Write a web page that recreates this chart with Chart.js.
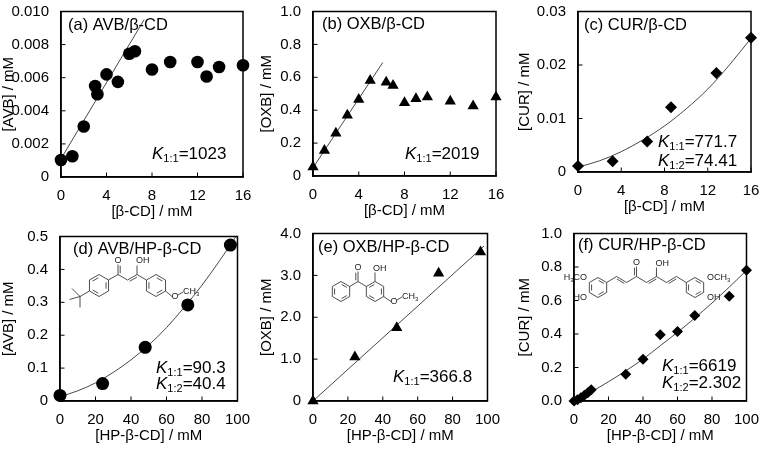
<!DOCTYPE html>
<html>
<head>
<meta charset="utf-8">
<script src="https://cdn.jsdelivr.net/npm/chart.js@4.4.1/dist/chart.umd.min.js"></script>
<style>
html, body { margin: 0; padding: 0; background: #fff; }
body { width: 763px; height: 449px; position: relative; overflow: hidden; }
.panel { position: absolute; }
</style>
</head>
<body>
<div class="panel" id="pa"><canvas id="ca"></canvas></div>
<div class="panel" id="pb"><canvas id="cb"></canvas></div>
<div class="panel" id="pc"><canvas id="cc"></canvas></div>
<div class="panel" id="pd"><canvas id="cd"></canvas></div>
<div class="panel" id="pe"><canvas id="ce"></canvas></div>
<div class="panel" id="pf"><canvas id="cf"></canvas></div>
<script>
const FONT = "'Liberation Sans', Arial, sans-serif";

// shared x ticks
const xTicksBeta = [0, 4, 8, 12, 16];
const xLabelsBeta = ['0', '4', '8', '12', '16'];
const xTicksHP = [0, 20, 40, 60, 80, 100];
const xLabelsHP = ['0', '20', '40', '60', '80', '100'];

// (a) AVB / beta-CD
const aX = [0, 1, 2, 3, 3.2, 4, 5, 6, 6.5, 8, 9.6, 12, 12.8, 13.9, 16];
const aY = [0.00103, 0.00125, 0.00305, 0.0055, 0.0050, 0.0062, 0.00575, 0.00745, 0.0076, 0.0065, 0.00695, 0.00695, 0.00607, 0.00665, 0.00675];
const aFitX = [0, 7.3];
const aFitY = [0.0011, 0.0095];
const aYTicks = [0, 0.002, 0.004, 0.006, 0.008, 0.010];
const aYLabels = ['0', '0.002', '0.004', '0.006', '0.008', '0.010'];

// (b) OXB / beta-CD
const bX = [0, 1, 2, 3, 4, 5, 6.4, 7, 8, 9, 10, 12, 14, 16];
const bY = [0.055, 0.155, 0.26, 0.37, 0.465, 0.58, 0.57, 0.55, 0.445, 0.47, 0.48, 0.455, 0.425, 0.48];
const bFitX = [0, 6.1];
const bFitY = [0.05, 0.69];
const bYTicks = [0, 0.2, 0.4, 0.6, 0.8, 1.0];
const bYLabels = ['0', '0.2', '0.4', '0.6', '0.8', '1.0'];

// (c) CUR / beta-CD
const cX = [0, 3.2, 6.4, 8.6, 12.8, 16];
const cY = [0.0011, 0.0020, 0.0057, 0.0121, 0.0185, 0.0251];
const cFitX = [0, 2, 4, 6, 8, 10, 12, 14, 16];
const cFitY = [0.0009, 0.0021, 0.0038, 0.0060, 0.0086, 0.0118, 0.0155, 0.0200, 0.0250];
const cYTicks = [0, 0.01, 0.02, 0.03];
const cYLabels = ['0', '0.01', '0.02', '0.03'];

// (d) AVB / HP-beta-CD
const dX = [0, 24, 48, 72, 96];
const dY = [0.017, 0.053, 0.163, 0.292, 0.474];
const dFitX = [0, 10, 20, 30, 40, 50, 60, 70, 80, 90, 100];
const dFitY = [0.013, 0.031, 0.055, 0.087, 0.125, 0.170, 0.223, 0.285, 0.352, 0.427, 0.507];
const dYTicks = [0, 0.1, 0.2, 0.3, 0.4, 0.5];
const dYLabels = ['0', '0.1', '0.2', '0.3', '0.4', '0.5'];

// (e) OXB / HP-beta-CD
const eX = [0, 24, 48, 72, 96];
const eY = [0, 1.05, 1.75, 3.05, 3.56];
const eFitX = [0, 98];
const eFitY = [0, 3.7];
const eYTicks = [0, 1, 2, 3, 4];
const eYLabels = ['0', '1.0', '2.0', '3.0', '4.0'];

// (f) CUR / HP-beta-CD
const fX = [0, 2, 4, 6, 8, 10, 30, 40, 50, 60, 70, 90, 100];
const fY = [0, 0.008, 0.02, 0.035, 0.05, 0.067, 0.16, 0.25, 0.395, 0.415, 0.51, 0.625, 0.78];
const fFitX = [0, 10, 20, 30, 40, 50, 60, 70, 80, 90, 100];
const fFitY = [0, 0.055, 0.115, 0.18, 0.25, 0.33, 0.41, 0.495, 0.585, 0.68, 0.78];
const fYTicks = [0, 0.2, 0.4, 0.6, 0.8, 1.0];
const fYLabels = ['0.0', '0.2', '0.4', '0.6', '0.8', '1.0'];

// --- small drawing helpers ---
function seg(ctx, p, q) {
    ctx.beginPath();
    ctx.moveTo(p[0], p[1]);
    ctx.lineTo(q[0], q[1]);
    ctx.stroke();
}
function dseg(ctx, p, q, off) {
    seg(ctx, p, q);
    const dx = q[0] - p[0], dy = q[1] - p[1], len = Math.hypot(dx, dy);
    const nx = -dy / len * off, ny = dx / len * off;
    seg(ctx, [p[0] + nx + dx * 0.12, p[1] + ny + dy * 0.12], [q[0] + nx - dx * 0.12, q[1] + ny - dy * 0.12]);
}
function ring(ctx, cx, cy, r, dbl) {
    const v = [];
    for (let i = 0; i < 6; i++) {
        const ang = (-90 + 60 * i) * Math.PI / 180;
        v.push([cx + r * Math.cos(ang), cy + r * Math.sin(ang)]);
    }
    for (let i = 0; i < 6; i++) seg(ctx, v[i], v[(i + 1) % 6]);
    dbl.forEach(i => {
        const p = v[i], q = v[(i + 1) % 6];
        const p2 = [cx + (p[0] - cx) * 0.74, cy + (p[1] - cy) * 0.74];
        const q2 = [cx + (q[0] - cx) * 0.74, cy + (q[1] - cy) * 0.74];
        seg(ctx, [p2[0] + (q2[0] - p2[0]) * 0.1, p2[1] + (q2[1] - p2[1]) * 0.1],
                 [q2[0] - (q2[0] - p2[0]) * 0.1, q2[1] - (q2[1] - p2[1]) * 0.1]);
    });
    return v;
}
// parts: [[text, isSub], ...]
function chemText(ctx, parts, x, y, align) {
    ctx.textBaseline = 'middle';
    ctx.textAlign = 'left';
    let w = 0;
    parts.forEach(p => { ctx.font = (p[1] ? '6px ' : '9px ') + FONT; w += ctx.measureText(p[0]).width; });
    let cx = align === 'right' ? x - w : align === 'center' ? x - w / 2 : x;
    parts.forEach(p => {
        ctx.font = (p[1] ? '6px ' : '9px ') + FONT;
        ctx.fillText(p[0], cx, y + (p[1] ? 2.5 : 0));
        cx += ctx.measureText(p[0]).width;
    });
}

function molAVB(ctx, L, T) {
    const P = (x, y) => [L + x, T + y];
    const r1 = ring(ctx, L + 39, T + 49, 11, [1, 3, 5]);
    const cq = P(20, 60);
    seg(ctx, r1[4], cq);
    seg(ctx, cq, P(20, 71));
    seg(ctx, cq, P(9.5, 63));
    seg(ctx, cq, P(12, 52));
    const c1 = P(58, 38), c2 = P(67.5, 43.5), c3 = P(77, 38);
    seg(ctx, r1[1], c1);
    dseg(ctx, c1, P(58, 28), 2.2);
    chemText(ctx, [['O', 0]], L + 58, T + 24, 'center');
    seg(ctx, c1, c2);
    dseg(ctx, c2, c3, 2.2);
    seg(ctx, c3, P(77, 29));
    chemText(ctx, [['OH', 0]], L + 76, T + 24, 'left');
    const r2 = ring(ctx, L + 96, T + 49, 11, [0, 2, 4]);
    seg(ctx, c3, r2[5]);
    seg(ctx, r2[2], P(112, 60));
    chemText(ctx, [['O', 0]], L + 115, T + 60, 'center');
    seg(ctx, P(118, 58.5), P(123, 55.5));
    chemText(ctx, [['CH', 0], ['3', 1]], L + 123, T + 55, 'left');
}

function molOXB(ctx, L, T) {
    const P = (x, y) => [L + x, T + y];
    ring(ctx, L + 28, T + 58, 10, [0, 2, 4]);
    const c = P(45, 48);
    seg(ctx, [L + 28 + 8.66, T + 53], c);
    dseg(ctx, c, P(45, 38), -2.2);
    chemText(ctx, [['O', 0]], L + 45, T + 34, 'center');
    const r2 = ring(ctx, L + 62, T + 58, 10, [1, 3, 5]);
    seg(ctx, c, r2[5]);
    seg(ctx, r2[0], P(62, 39));
    chemText(ctx, [['OH', 0]], L + 60, T + 35, 'left');
    seg(ctx, r2[2], P(78, 68));
    chemText(ctx, [['O', 0]], L + 81, T + 68, 'center');
    seg(ctx, P(84, 66.5), P(89, 63.5));
    chemText(ctx, [['CH', 0], ['3', 1]], L + 89, T + 63, 'left');
}

function molCUR(ctx, L, T) {
    const r1 = ring(ctx, L + 24, T + 54, 10, [0, 2, 4]);
    const r2 = ring(ctx, L + 121, T + 54, 10, [0, 2, 4]);
    const p = [];
    for (let i = 0; i <= 8; i++) {
        p.push([r1[1][0] + (r2[5][0] - r1[1][0]) * i / 8, T + (i % 2 ? 43 : 49)]);
    }
    for (let i = 0; i < 8; i++) {
        if (i === 1 || i === 4 || i === 6) dseg(ctx, p[i], p[i + 1], 2);
        else seg(ctx, p[i], p[i + 1]);
    }
    dseg(ctx, p[3], [p[3][0], T + 33], -2);
    chemText(ctx, [['O', 0]], p[3][0], T + 29, 'center');
    seg(ctx, p[5], [p[5][0], T + 34]);
    chemText(ctx, [['OH', 0]], p[5][0] - 1, T + 30, 'left');
    chemText(ctx, [['H', 0], ['3', 1], ['CO', 0]], L + 13, T + 44, 'right');
    chemText(ctx, [['HO', 0]], L + 13, T + 64, 'right');
    chemText(ctx, [['OCH', 0], ['3', 1]], L + 133, T + 44, 'left');
    chemText(ctx, [['OH', 0]], L + 133, T + 64, 'left');
}

const molecules = { avb: molAVB, oxb: molOXB, cur: molCUR };

function drawK(ctx, k, a) {
    let x = a.left + k.dx;
    const y = a.bottom + k.dy;
    ctx.textBaseline = 'middle';
    ctx.textAlign = 'left';
    ctx.font = 'italic 17px ' + FONT;
    ctx.fillText('K', x, y);
    x += ctx.measureText('K').width;
    ctx.font = '11px ' + FONT;
    ctx.fillText(k.sub, x, y + 5);
    x += ctx.measureText(k.sub).width;
    ctx.font = '17px ' + FONT;
    ctx.fillText('=' + k.val, x, y);
}

const decoPlugin = {
    id: 'deco',
    afterDraw(chart) {
        const o = chart.options.plugins.deco;
        const ctx = chart.ctx, a = chart.chartArea;
        const xs = chart.scales.x, ys = chart.scales.y;
        ctx.save();
        // plot frame and inside ticks
        ctx.strokeStyle = '#000';
        ctx.lineWidth = 1.5;
        ctx.strokeRect(a.left, a.top, a.right - a.left, a.bottom - a.top);
        ctx.lineWidth = 1;
        xs.ticks.forEach(tk => {
            const px = xs.getPixelForValue(tk.value);
            seg(ctx, [px, a.bottom], [px, a.bottom - 4.5]);
        });
        ys.ticks.forEach(tk => {
            const py = ys.getPixelForValue(tk.value);
            seg(ctx, [a.left, py], [a.left + 4.5, py]);
        });
        ctx.fillStyle = '#000';
        ctx.font = '16.5px ' + FONT;
        ctx.textBaseline = 'middle';
        ctx.textAlign = 'left';
        ctx.fillText(o.title, a.left + o.titlePos[0], a.top + o.titlePos[1]);
        o.k.forEach(k => drawK(ctx, k, a));
        if (o.mol && molecules[o.mol]) {
            ctx.strokeStyle = '#222';
            ctx.lineWidth = 0.8;
            ctx.fillStyle = '#222';
            molecules[o.mol](ctx, a.left, a.top);
        }
        ctx.restore();
    }
};

function pts(xs, ys) {
    return xs.map((x, i) => ({ x: x, y: ys[i] }));
}

function makePanel(p) {
    const div = document.getElementById('p' + p.id);
    div.style.left = p.box[0] + 'px';
    div.style.top = p.box[1] + 'px';
    div.style.width = p.box[2] + 'px';
    div.style.height = p.box[3] + 'px';

    new Chart(document.getElementById('c' + p.id), {
        type: 'scatter',
        data: {
            datasets: [{
                data: pts(p.dataX, p.dataY),
                pointStyle: p.marker,
                pointRadius: p.size,
                backgroundColor: '#000',
                borderColor: '#000',
                borderWidth: 0,
                showLine: false,
                clip: false
            }, {
                data: pts(p.fitX, p.fitY),
                showLine: true,
                pointRadius: 0,
                borderColor: '#333',
                borderWidth: 0.9,
                tension: 0.4,
                cubicInterpolationMode: 'monotone'
            }]
        },
        options: {
            responsive: true,
            maintainAspectRatio: false,
            animation: false,
            layout: { padding: { top: 7, right: p.padR, left: 0, bottom: 0 } },
            plugins: {
                legend: { display: false },
                tooltip: { enabled: false },
                deco: { title: p.title, titlePos: p.titlePos, k: p.k, mol: p.mol }
            },
            scales: {
                x: {
                    type: 'linear',
                    min: 0,
                    max: p.xTicks[p.xTicks.length - 1],
                    grid: { display: false },
                    border: { display: true, color: '#000', width: 1.5 },
                    afterBuildTicks: s => { s.ticks = p.xTicks.map(v => ({ value: v })); },
                    afterFit: s => { s.height = 46; },
                    ticks: {
                        padding: 3,
                        maxRotation: 0,
                        color: '#000',
                        font: { family: FONT, size: 15, lineHeight: 1 },
                        callback: (v, i) => p.xLabels[i]
                    },
                    title: {
                        display: true,
                        text: p.xTitle,
                        color: '#000',
                        font: { family: FONT, size: 15 },
                        padding: { top: 0, bottom: 2 }
                    }
                },
                y: {
                    type: 'linear',
                    min: 0,
                    max: p.yTicks[p.yTicks.length - 1],
                    grid: { display: false },
                    border: { display: true, color: '#000', width: 1.5 },
                    afterBuildTicks: s => { s.ticks = p.yTicks.map(v => ({ value: v })); },
                    afterFit: s => { s.width = p.wy; },
                    ticks: {
                        padding: 4,
                        color: '#000',
                        font: { family: FONT, size: 15, lineHeight: 1 },
                        callback: (v, i) => p.yLabels[i]
                    },
                    title: {
                        display: true,
                        text: p.yTitle,
                        color: '#000',
                        font: { family: FONT, size: 15 },
                        padding: { top: 0, bottom: 0 }
                    }
                }
            }
        },
        plugins: [decoPlugin]
    });
}

// panels do not overlap and stay inside the page
const panelList = [{
    id: 'a', box: [0, 0, 257, 223], wy: 61, padR: 14,
    xTicks: xTicksBeta, xLabels: xLabelsBeta, xTitle: '[β-CD] / mM',
    yTicks: aYTicks, yLabels: aYLabels, yTitle: '[AVB] / mM',
    dataX: aX, dataY: aY, fitX: aFitX, fitY: aFitY, marker: 'circle', size: 6.3,
    title: '(a) AVB/β-CD', titlePos: [7, 14],
    k: [{ sub: '1:1', val: '1023', dx: 91, dy: -23 }], mol: ''
}, {
    id: 'b', box: [258, 0, 252, 222], wy: 55, padR: 14,
    xTicks: xTicksBeta, xLabels: xLabelsBeta, xTitle: '[β-CD] / mM',
    yTicks: bYTicks, yLabels: bYLabels, yTitle: '[OXB] / mM',
    dataX: bX, dataY: bY, fitX: bFitX, fitY: bFitY, marker: 'triangle', size: 6.5,
    title: '(b) OXB/β-CD', titlePos: [9, 13],
    k: [{ sub: '1:1', val: '2019', dx: 92, dy: -22 }], mol: ''
}, {
    id: 'c', box: [516, 0, 247, 218], wy: 62, padR: 12,
    xTicks: xTicksBeta, xLabels: xLabelsBeta, xTitle: '[β-CD] / mM',
    yTicks: cYTicks, yLabels: cYLabels, yTitle: '[CUR] / mM',
    dataX: cX, dataY: cY, fitX: cFitX, fitY: cFitY, marker: 'rectRot', size: 6,
    title: '(c) CUR/β-CD', titlePos: [6, 14],
    k: [{ sub: '1:1', val: '771.7', dx: 80, dy: -30 }, { sub: '1:2', val: '74.41', dx: 80, dy: -11 }], mol: ''
}, {
    id: 'd', box: [0, 225, 253, 222], wy: 60, padR: 14,
    xTicks: xTicksHP, xLabels: xLabelsHP, xTitle: '[HP-β-CD] / mM',
    yTicks: dYTicks, yLabels: dYLabels, yTitle: '[AVB] / mM',
    dataX: dX, dataY: dY, fitX: dFitX, fitY: dFitY, marker: 'circle', size: 6.5,
    title: '(d) AVB/HP-β-CD', titlePos: [13, 13],
    k: [{ sub: '1:1', val: '90.3', dx: 96, dy: -33 }, { sub: '1:2', val: '40.4', dx: 96, dy: -17 }], mol: 'avb'
}, {
    id: 'e', box: [258, 222, 245, 225], wy: 55, padR: 14,
    xTicks: xTicksHP, xLabels: xLabelsHP, xTitle: '[HP-β-CD] / mM',
    yTicks: eYTicks, yLabels: eYLabels, yTitle: '[OXB] / mM',
    dataX: eX, dataY: eY, fitX: eFitX, fitY: eFitY, marker: 'triangle', size: 6.5,
    title: '(e) OXB/HP-β-CD', titlePos: [5, 14],
    k: [{ sub: '1:1', val: '366.8', dx: 80, dy: -24 }], mol: 'oxb'
}, {
    id: 'f', box: [516, 222, 246, 225], wy: 58, padR: 12,
    xTicks: xTicksHP, xLabels: xLabelsHP, xTitle: '[HP-β-CD] / mM',
    yTicks: fYTicks, yLabels: fYLabels, yTitle: '[CUR] / mM',
    dataX: fX, dataY: fY, fitX: fFitX, fitY: fFitY, marker: 'rectRot', size: 5.5,
    title: '(f) CUR/HP-β-CD', titlePos: [4, 12],
    k: [{ sub: '1:1', val: '6619', dx: 88, dy: -35 }, { sub: '1:2', val: '2.302', dx: 88, dy: -18 }], mol: 'cur'
}];

panelList.forEach(makePanel);
</script>
</body>
</html>
